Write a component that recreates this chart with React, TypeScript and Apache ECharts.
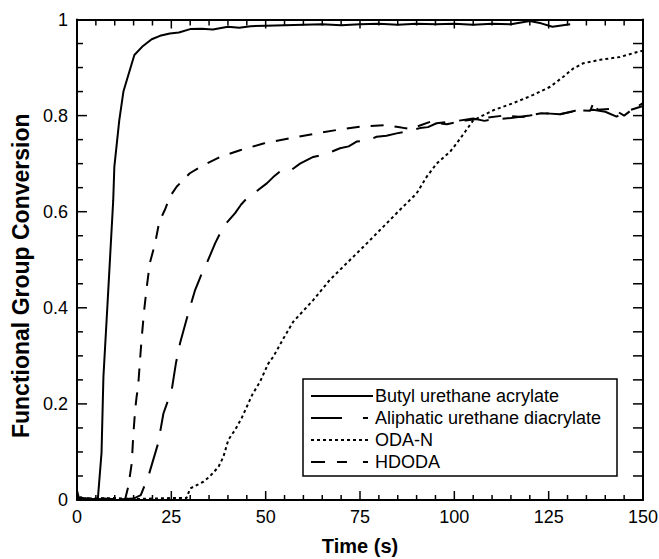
import React, { useEffect, useRef } from "react";
import * as echarts from "echarts";

// ---- Data ----
const butylTime = [0, 0.5, 1, 2, 3, 4, 5, 5.5, 6.5, 7.0, 8.1, 9.6, 9.9, 11.2, 12.3, 15.2, 17.5, 19.8, 22, 24.6, 27, 30, 33, 36, 40, 43, 46, 50, 55, 60, 65, 70, 75, 80, 85, 90, 95, 100, 105, 110, 115, 120, 123, 126, 130.7];
const butylConv = [0.02, 0.004, 0.006, 0.002, 0.004, 0.001, 0.003, 0.0, 0.098, 0.256, 0.41, 0.624, 0.694, 0.79, 0.85, 0.926, 0.945, 0.959, 0.966, 0.971, 0.973, 0.98, 0.981, 0.979, 0.985, 0.983, 0.986, 0.987, 0.988, 0.989, 0.99, 0.988, 0.99, 0.991, 0.989, 0.991, 0.99, 0.991, 0.989, 0.991, 0.99, 0.997, 0.992, 0.985, 0.99];

const aliphaticTime = [0, 5, 10, 15, 16.9, 18.9, 21.5, 22.9, 25.1, 26.2, 27.3, 29.5, 31.3, 33, 34.4, 36.6, 38.8, 41.9, 43.5, 45.4, 48, 50.3, 52, 54.7, 57, 59.1, 62.6, 66, 69.7, 72, 74.1, 77, 79.4, 82, 84.7, 88, 90.9, 93, 95.3, 100, 105, 108, 110, 115, 120, 123.5, 128, 132, 136.8, 140, 143, 146, 150];
const aliphaticConv = [0.0, 0.002, 0.001, 0.003, 0.01, 0.049, 0.118, 0.18, 0.229, 0.284, 0.326, 0.389, 0.437, 0.47, 0.493, 0.534, 0.569, 0.597, 0.615, 0.631, 0.645, 0.659, 0.672, 0.69, 0.688, 0.7, 0.714, 0.72, 0.732, 0.736, 0.746, 0.748, 0.756, 0.758, 0.763, 0.768, 0.774, 0.776, 0.784, 0.788, 0.794, 0.789, 0.792, 0.795, 0.8, 0.805, 0.803, 0.81, 0.812, 0.808, 0.798, 0.81, 0.82];

const odaTime = [0, 5, 10, 15, 20, 25, 29, 30, 33.5, 35.2, 37.5, 38.8, 40.1, 41.9, 43.6, 45, 46.5, 48.5, 50.7, 52, 54.7, 57.3, 62.6, 67, 71.5, 74.1, 76.8, 81.2, 85.6, 90, 92.7, 95.3, 98.9, 100.6, 103, 105, 110.3, 115.6, 120.9, 125.4, 128.9, 131.5, 134.2, 138.6, 143.9, 148.8, 150];
const odaConv = [0.004, 0.003, 0.004, 0.002, 0.003, 0.004, 0.004, 0.024, 0.038, 0.049, 0.069, 0.09, 0.125, 0.146, 0.17, 0.194, 0.22, 0.246, 0.284, 0.298, 0.336, 0.371, 0.416, 0.458, 0.493, 0.513, 0.534, 0.569, 0.604, 0.638, 0.673, 0.7, 0.725, 0.742, 0.768, 0.79, 0.811, 0.826, 0.843, 0.86, 0.881, 0.898, 0.909, 0.916, 0.922, 0.933, 0.935];

const hdodaTime = [0, 3, 6, 9, 12, 12.7, 13.6, 14.5, 14.9, 15.4, 15.8, 16.2, 16.7, 17.1, 17.8, 18.5, 19.3, 20.7, 21.8, 23.3, 24.6, 26.4, 29.9, 33.5, 37.9, 43.2, 49.4, 56.5, 63.5, 68.8, 75, 82, 86, 88.3, 93.6, 98, 103, 108, 113, 118, 123, 128, 133, 136, 137, 138, 142, 145, 147, 150];
const hdodaConv = [0.003, 0.001, 0.004, 0.002, 0.003, 0.0, 0.028, 0.076, 0.132, 0.187, 0.215, 0.236, 0.291, 0.333, 0.395, 0.444, 0.493, 0.534, 0.579, 0.604, 0.631, 0.652, 0.68, 0.697, 0.714, 0.728, 0.742, 0.753, 0.763, 0.77, 0.777, 0.78, 0.775, 0.772, 0.787, 0.782, 0.79, 0.795, 0.8, 0.797, 0.805, 0.803, 0.811, 0.81, 0.829, 0.812, 0.814, 0.8, 0.812, 0.826];

const legendNames = ["Butyl urethane acrylate", "Aliphatic urethane diacrylate", "ODA-N", "HDODA"];
const xTicks = { min: 0, max: 150, interval: 25, minorStep: 5 };
const yTicks = { min: 0, max: 1, interval: 0.2, minorStep: 0.05 };

const FONT = "'Liberation Sans', Arial, Helvetica, sans-serif";
const GRID = { left: 77, top: 19.5, width: 566, height: 480.5 };

function pairs(t: number[], c: number[]) {
  return t.map((v, i) => [v, c[i]]);
}

export default function App() {
  const ref = useRef<HTMLDivElement>(null);
  useEffect(() => {
    if (!ref.current) return;
    const chart = echarts.init(ref.current, undefined, { renderer: "svg" });
    const mkAxisLine = () => ({ show: true, onZero: false, lineStyle: { color: "#000", width: 2 } });
    const lineW = 2;

    // Tick marks along the frame, placed on the same linear scale as the axes
    const left = GRID.left;
    const right = GRID.left + GRID.width;
    const top = GRID.top;
    const bottom = GRID.top + GRID.height;
    const xPix = (v: number) => left + ((v - xTicks.min) / (xTicks.max - xTicks.min)) * GRID.width;
    const yPix = (v: number) => bottom - ((v - yTicks.min) / (yTicks.max - yTicks.min)) * GRID.height;
    const tickSt = { stroke: "#000", lineWidth: 1.5 };
    const g: any[] = [];
    const nx = Math.round((xTicks.max - xTicks.min) / xTicks.minorStep);
    const xMajorEvery = Math.round(xTicks.interval / xTicks.minorStep);
    for (let i = 1; i < nx; i++) {
      const px = xPix(xTicks.min + i * xTicks.minorStep);
      const major = i % xMajorEvery === 0;
      g.push({ type: "line", shape: { x1: px, y1: bottom, x2: px, y2: bottom - (major ? 9 : 5) }, style: tickSt, z: 12 });
      g.push({ type: "line", shape: { x1: px, y1: top, x2: px, y2: top + (major ? 9 : 6) }, style: tickSt, z: 12 });
    }
    const ny = Math.round((yTicks.max - yTicks.min) / yTicks.minorStep);
    const yMajorEvery = Math.round(yTicks.interval / yTicks.minorStep);
    for (let i = 1; i < ny; i++) {
      const py = yPix(yTicks.min + i * yTicks.minorStep);
      const major = i % yMajorEvery === 0;
      g.push({ type: "line", shape: { x1: left, y1: py, x2: left + (major ? 10 : 6), y2: py }, style: tickSt, z: 12 });
      g.push({ type: "line", shape: { x1: right, y1: py, x2: right - 10, y2: py }, style: tickSt, z: 12 });
    }

    // Legend box
    const legendX0 = 303;
    const legendY0 = 379;
    const rowY = [396, 418, 440, 462];
    const sampleX0 = 311;
    const sampleX1 = 373;
    const textX = 375;
    g.push(
      { type: "rect", shape: { x: legendX0, y: legendY0, width: 314, height: 97 }, style: { fill: "#fff", stroke: "#000", lineWidth: 1.5 }, z: 10 },
      { type: "line", shape: { x1: sampleX0, y1: rowY[0], x2: sampleX1, y2: rowY[0] }, style: { stroke: "#000", lineWidth: lineW }, z: 11 },
      { type: "line", shape: { x1: sampleX0, y1: rowY[1], x2: 342, y2: rowY[1] }, style: { stroke: "#000", lineWidth: lineW }, z: 11 },
      { type: "line", shape: { x1: 363, y1: rowY[1], x2: 368, y2: rowY[1] }, style: { stroke: "#000", lineWidth: lineW }, z: 11 },
      { type: "line", shape: { x1: sampleX0, y1: rowY[2], x2: sampleX1 - 2, y2: rowY[2] }, style: { stroke: "#000", lineWidth: lineW, lineDash: [3, 3] }, z: 11 },
      { type: "line", shape: { x1: sampleX0, y1: rowY[3], x2: 325, y2: rowY[3] }, style: { stroke: "#000", lineWidth: lineW }, z: 11 },
      { type: "line", shape: { x1: 337, y1: rowY[3], x2: 347, y2: rowY[3] }, style: { stroke: "#000", lineWidth: lineW }, z: 11 },
      { type: "line", shape: { x1: 363, y1: rowY[3], x2: 368, y2: rowY[3] }, style: { stroke: "#000", lineWidth: lineW }, z: 11 }
    );
    legendNames.forEach((n, i) => {
      g.push({
        type: "text",
        x: textX,
        y: rowY[i],
        style: { text: n, fill: "#000", font: `18px ${FONT}`, textVerticalAlign: "middle", textAlign: "left" },
        z: 11,
      });
    });

    chart.setOption({
      animation: false,
      backgroundColor: "#fff",
      grid: { ...GRID, containLabel: false, outerBoundsMode: "none" },
      xAxis: [
        {
          type: "value",
          min: xTicks.min,
          max: xTicks.max,
          interval: xTicks.interval,
          splitLine: { show: false },
          axisLine: mkAxisLine(),
          position: "bottom",
          name: "Time (s)",
          nameLocation: "middle",
          nameGap: 36,
          nameTextStyle: { fontFamily: FONT, fontSize: 20, fontWeight: "bold", color: "#000" },
          axisLabel: { fontFamily: FONT, fontSize: 18, color: "#000", margin: 8 },
          axisTick: { show: false },
        },
        {
          type: "value",
          min: xTicks.min,
          max: xTicks.max,
          interval: xTicks.interval,
          splitLine: { show: false },
          axisLine: mkAxisLine(),
          position: "top",
          axisLabel: { show: false },
          axisTick: { show: false },
        },
      ],
      yAxis: [
        {
          type: "value",
          min: yTicks.min,
          max: yTicks.max,
          interval: yTicks.interval,
          splitLine: { show: false },
          axisLine: mkAxisLine(),
          position: "left",
          name: "Functional Group Conversion",
          nameLocation: "middle",
          nameGap: 45,
          nameTextStyle: { fontFamily: FONT, fontSize: 23, fontWeight: "bold", color: "#000", padding: [0, 32, 0, 0] },
          axisLabel: { fontFamily: FONT, fontSize: 18, color: "#000", margin: 9 },
          axisTick: { show: false },
        },
        {
          type: "value",
          min: yTicks.min,
          max: yTicks.max,
          interval: yTicks.interval,
          splitLine: { show: false },
          axisLine: mkAxisLine(),
          position: "right",
          axisLabel: { show: false },
          axisTick: { show: false },
        },
      ],
      series: [
        {
          name: legendNames[0],
          type: "line",
          data: pairs(butylTime, butylConv),
          showSymbol: false,
          lineStyle: { color: "#000", width: lineW, type: "solid" },
        },
        {
          name: legendNames[1],
          type: "line",
          data: pairs(aliphaticTime, aliphaticConv),
          showSymbol: false,
          lineStyle: { color: "#000", width: lineW, type: [30, 14] },
        },
        {
          name: legendNames[2],
          type: "line",
          data: pairs(odaTime, odaConv),
          showSymbol: false,
          lineStyle: { color: "#000", width: lineW, type: [3, 3] },
        },
        {
          name: legendNames[3],
          type: "line",
          data: pairs(hdodaTime, hdodaConv),
          showSymbol: false,
          lineStyle: { color: "#000", width: lineW, type: [13, 11] },
        },
      ],
      graphic: g,
    });

    return () => chart.dispose();
  }, []);
  return (
    <div
      ref={ref}
      style={{ position: "fixed", left: 0, top: 0, width: 659, height: 559, background: "#fff" }}
    />
  );
}
